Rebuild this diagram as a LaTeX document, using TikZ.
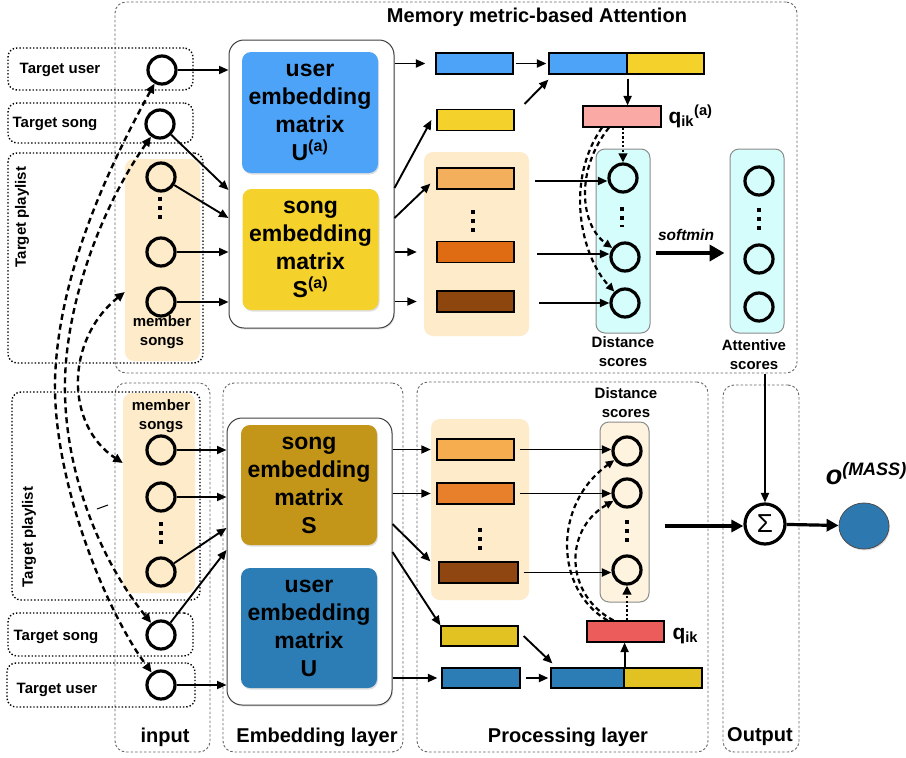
\documentclass[tikz,border=0pt]{standalone}
\usepackage{fontspec}
\setmainfont{Liberation Sans}
\usetikzlibrary{arrows.meta,shadows,calc,shapes.geometric}

\definecolor{userA}{HTML}{4DA3F7}
\definecolor{songA}{HTML}{F4D12B}
\definecolor{userB}{HTML}{2C7CB5}
\definecolor{songB}{HTML}{C39619}
\definecolor{panelbg}{HTML}{FDEBC9}
\definecolor{cyanbg}{HTML}{D4FDFB}
\definecolor{creambg}{HTML}{FEF3DF}
\definecolor{qcolA}{HTML}{FBA9A5}
\definecolor{qcolB}{HTML}{EC5C5A}
\definecolor{orA}{HTML}{F4AF5C}
\definecolor{orB}{HTML}{DF6C13}
\definecolor{brA}{HTML}{8C460E}
\definecolor{orC}{HTML}{F5AD50}
\definecolor{orD}{HTML}{E87F2A}
\definecolor{brB}{HTML}{8F4610}
\definecolor{yelB}{HTML}{E2C223}
\definecolor{outblue}{HTML}{2E78B0}

\begin{document}
\begin{tikzpicture}[x=1pt,y=-1pt,
  small/.style={font=\fontsize{15}{19}\selectfont\bfseries},
  big/.style={font=\fontsize{20}{24}\selectfont\bfseries},
  lblbox/.style={draw, dash pattern=on 1.4pt off 2pt, line width=1.4pt, rounded corners=9pt, inner sep=0pt},
  colbox/.style={draw=black!60, dash pattern=on 2.5pt off 2pt, line width=0.9pt, rounded corners=11pt, inner sep=0pt},
  neuron/.style={circle, draw, line width=3.2pt, minimum size=28pt, inner sep=0pt},
  vec/.style={draw, line width=1.2pt, inner sep=0pt, minimum height=21pt, minimum width=77pt},
  panel/.style={rounded corners=9pt, inner sep=0pt},
  scorebox/.style={panel, draw=black!45, line width=1pt},
  matbox/.style={rounded corners=9pt, inner sep=0pt, minimum width=136pt, minimum height=121pt,
    align=center, font=\fontsize{23}{28}\selectfont\bfseries,
    drop shadow={opacity=0.25, shadow xshift=1pt, shadow yshift=-1.5pt}},
  embframe/.style={draw=black!75, line width=1pt, fill=white, rounded corners=15pt, inner sep=0pt,
    minimum width=165pt, drop shadow={opacity=0.2, shadow xshift=1pt, shadow yshift=-1.5pt}},
  arr/.style={-{Triangle[length=9.5pt,width=8pt]}, line width=1.9pt},
  dotarr/.style={-{Triangle[length=9pt,width=8.5pt]}, line width=2.9pt, dash pattern=on 2.2pt off 2.2pt},
  dasharr/.style={-{Triangle[length=8.5pt,width=7.5pt]}, line width=2.2pt, dash pattern=on 5pt off 3.5pt},
  longdash/.style={{Triangle[length=9.5pt,width=8.5pt]}-{Triangle[length=9.5pt,width=8.5pt]}, line width=2.4pt, dash pattern=on 6pt off 4pt},
  bigarr/.style={-{Triangle[length=15pt,width=16pt]}, line width=4pt},
  outarr/.style={-{Triangle[length=12pt,width=12pt]}, line width=3.2pt},
  vdots/.style={line width=4pt, dash pattern=on 4pt off 5pt}
]
\useasboundingbox (0,0) rectangle (906,758);

%% ---------- frames ----------
\node[colbox, minimum width=682pt, minimum height=371pt] (memBox) at (456,187.5) {};
\node[big] (title) at (537,17) {Memory metric-based Attention};

\node[colbox, minimum width=95pt, minimum height=369pt] (colIn) at (162.5,567.5) {};
\node[colbox, minimum width=180pt, minimum height=369pt] (colEmb) at (313,567.5) {};
\node[colbox, minimum width=291pt, minimum height=370pt] (colProc) at (562.5,567) {};
\node[colbox, minimum width=76pt, minimum height=367pt] (colOut) at (761,568.5) {};
\node[big] (inLbl) at (165,737) {input};
\node[big] (embLbl) at (317,737) {Embedding layer};
\node[big] (procLbl) at (568,737) {Processing layer};
\node[big] (outLbl) at (760,737) {Output};

%% ---------- input side, attention branch ----------
\node[lblbox, minimum width=185pt, minimum height=42pt] (tuBoxA) at (100.5,69) {};
\node[small] (tuTxtA) at (60,70) {Target user};
\node[lblbox, minimum width=185pt, minimum height=40pt] (tsBoxA) at (100.5,123) {};
\node[small] (tsTxtA) at (55,124) {Target song};
\node[lblbox, minimum width=195pt, minimum height=210pt] (tpBoxA) at (105.5,258) {};
\node[small, rotate=90] (tpTxtA) at (22,217) {Target playlist};
\node[panel, fill=panelbg, minimum width=75pt, minimum height=202pt] (msBoxA) at (162.5,260) {};
\node[small, align=center] (msTxtA) at (162,332) {member\\songs};

\node[neuron] (tuA) at (162,70) {};
\node[neuron] (tsA) at (160,124) {};
\node[neuron] (maA) at (161,177) {};
\node[neuron] (mbA) at (161,252) {};
\node[neuron] (mcA) at (161,302) {};
\draw[vdots] (160,197) -- (160,223);

%% ---------- embedding, attention branch ----------
\node[embframe, minimum height=288pt] (embA) at (311.5,184) {};
\node[matbox, fill=userA] (Ua) at (310,112.5) {user\\embedding\\matrix\\U\textsuperscript{(a)}};
\node[matbox, fill=songA] (Sa) at (310.5,249.5) {song\\embedding\\matrix\\S\textsuperscript{(a)}};

%% ---------- vectors, attention branch ----------
\node[vec, fill=userA] (uvA) at (474.5,63.5) {};
\node[vec, fill=songA] (svA) at (475.5,120) {};
\node[panel, fill=panelbg, minimum width=105pt, minimum height=184pt] (pvA) at (476.5,244) {};
\node[vec, fill=orA] (v1A) at (475.5,178.5) {};
\node[vec, fill=orB] (v2A) at (475.5,252) {};
\node[vec, fill=brA] (v3A) at (475.5,301.5) {};
\draw[vdots] (473,210) -- (473,232);

\node[vec, fill=userA, minimum width=78pt] (cuA) at (588,63.5) {};
\node[vec, fill=songA] (csA) at (665.5,63.5) {};
\node[vec, fill=qcolA, minimum width=78pt] (qNodeA) at (622,116.5) {};
\node[anchor=base west, font=\fontsize{21}{24}\selectfont\bfseries] (qLblA) at (665,123) {q\textsubscript{ik}\textsuperscript{(a)}};

\node[scorebox, fill=cyanbg, minimum width=54pt, minimum height=184pt] (dsA) at (623,241) {};
\node[neuron] (d1A) at (623,178) {};
\node[neuron] (d2A) at (625,257) {};
\node[neuron] (d3A) at (625,303) {};
\draw[vdots] (622,207) -- (622,227);
\node[small, align=center] (dsLblA) at (623,352) {Distance\\scores};

\node[scorebox, fill=cyanbg, minimum width=54pt, minimum height=184pt] (asA) at (757,241) {};
\node[neuron] (a1A) at (759,181) {};
\node[neuron] (a2A) at (759,259) {};
\node[neuron] (a3A) at (759,307) {};
\draw[vdots] (759,208) -- (759,230);
\node[small, align=center] (asLbl) at (754,355) {Attentive\\scores};

\node[font=\fontsize{15.5}{18}\selectfont\bfseries\itshape] (smLbl) at (686,235) {softmin};

%% ---------- input side, main branch ----------
\node[lblbox, minimum width=188pt, minimum height=208pt] (tpBoxB) at (106,496) {};
\node[small, rotate=90] (tpTxtB) at (29,537) {Target playlist};
\node[panel, fill=panelbg, minimum width=72pt, minimum height=200pt] (msBoxB) at (159,493) {};
\node[small, align=center] (msTxtB) at (161,416) {member\\songs};
\node[neuron] (maB) at (161,450) {};
\node[neuron] (mbB) at (161,497) {};
\node[neuron] (mcB) at (161,572) {};
\draw[vdots] (161,522) -- (161,544);
\node[lblbox, minimum width=185pt, minimum height=43pt] (tsBoxB) at (100.5,634.5) {};
\node[small] (tsTxtB) at (56,637) {Target song};
\node[neuron] (tsB) at (161,635) {};
\node[lblbox, minimum width=188pt, minimum height=44pt] (tuBoxB) at (101,685) {};
\node[small] (tuTxtB) at (57,690) {Target user};
\node[neuron] (tuB) at (161,685) {};
\draw[line width=1pt] (97,509) -- (108,505);

%% ---------- embedding, main branch ----------
\node[embframe, minimum height=287pt] (embB) at (309.5,561.5) {};
\node[matbox, fill=songB, minimum height=120pt] (Sb) at (309,485) {song\\embedding\\matrix\\S};
\node[matbox, fill=userB, minimum height=120pt] (Ub) at (309,628) {user\\embedding\\matrix\\U};

%% ---------- processing, main branch ----------
\node[panel, fill=panelbg, minimum width=98pt, minimum height=181pt] (pvB) at (480,509.5) {};
\node[vec, fill=orC] (v1B) at (475.5,449.5) {};
\node[vec, fill=orD] (v2B) at (475.5,493.5) {};
\draw[vdots] (480,528) -- (480,550);
\node[vec, fill=brB, minimum width=79pt] (v3B) at (478.5,572.5) {};
\node[vec, fill=yelB, minimum height=20pt] (svB) at (479.5,636) {};
\node[vec, fill=userB, minimum width=78pt, minimum height=20pt] (uvB) at (481,678) {};
\node[vec, fill=userB, minimum width=73pt, minimum height=20pt] (cuB) at (587.5,678) {};
\node[vec, fill=yelB, minimum width=78pt, minimum height=20pt] (csB) at (663,678) {};
\node[vec, fill=qcolB] (qNodeB) at (625.5,631.5) {};
\node[anchor=base west, font=\fontsize{21}{24}\selectfont\bfseries] (qLblB) at (669,639) {q\textsubscript{ik}};

\node[scorebox, fill=creambg, minimum width=49pt, minimum height=180pt] (dsB) at (624.5,512) {};
\node[small, align=center] (dsLblB) at (626,402.5) {Distance\\scores};
\node[neuron] (d1B) at (627,451) {};
\node[neuron] (d2B) at (627,493) {};
\node[neuron] (d3B) at (627,570) {};
\draw[vdots] (627,520) -- (627,542);

%% ---------- output ----------
\node[neuron, minimum size=40pt, font=\fontsize{26}{26}\selectfont] (sigma) at (765,524) {Σ};
\node[ellipse, draw=black!70, line width=0.8pt, fill=outblue, minimum width=50pt, minimum height=46pt,
      inner sep=0pt, drop shadow={opacity=0.25, shadow xshift=1pt, shadow yshift=-1.5pt}] (outN) at (864,526) {};
\node[font=\bfseries\itshape] (outTxt) at (866,474)
  {{\fontsize{27}{27}\selectfont o}\raisebox{9pt}{\fontsize{18}{18}\selectfont (MASS)}};

%% ---------- connectors: attention branch ----------
\draw[arr] (tuA) -- (tuA -| embA.west);
\draw[arr] (tsA) -- (embA.west |- 0,190);
\draw[arr] (maA) -- (embA.west |- 0,218);
\draw[arr] (mbA) -- (mbA -| embA.west);
\draw[arr] (mcA) -- (mcA -| embA.west);

\draw[arr] (embA.east |- uvA) -- ($(uvA.west)+(-10,0)$);
\draw[arr] (embA.east |- 0,188) -- ($(svA.west)+(-5,0)$);
\draw[arr] (embA.east |- 0,218) -- ($(v1A.south west)+(-6,-6)$);
\draw[arr] (embA.east |- v2A) -- ($(pvA.west |- v2A)+(-7,0)$);
\draw[arr] (embA.east |- v3A) -- ($(pvA.west |- v3A)+(-7,0)$);

\draw[arr, shorten <=2pt, shorten >=2pt] (uvA.east) -- (cuA.west);
\draw[arr] ($(svA.north east)+(10,-5)$) -- ($(cuA.south west)+(0,5)$);
\draw[arr] ($(cuA.south east)+(0,4)$) -- (cuA.south east |- qNodeA.north);

\draw[arr] ($(d1A)+(-88,3)$) -- ($(d1A.west)+(0,3)$);
\draw[arr] ($(d2A)+(-88,-3)$) -- ($(d2A.west)+(0,-3)$);
\draw[arr] ($(d3A)+(-86,0)$) -- (d3A.west);

\draw[dotarr] (qNodeA.south -| d1A) -- (d1A);
\draw[dasharr] ($(qNodeA.south)+(-20,0)$) .. controls (565,180) and (580,255) .. (d3A);
\draw[dasharr] ($(qNodeA.south)+(-13,0)$) .. controls (575,170) and (580,225) .. (d2A);

\draw[bigarr] ($(dsA.east)+(5,12)$) -- ($(asA.west)+(-5,12)$);

%% ---------- connectors: main branch ----------
\draw[arr] (maB) -- (maB -| embB.west);
\draw[arr] (mbB) -- (mbB -| embB.west);
\draw[arr] (mcB) -- (embB.west |- 0,528);
\draw[arr] (tsB) -- (embB.west |- 0,550);
\draw[arr] (tuB) -- (tuB -| embB.west);

\draw[arr] (embB.east |- v1B) -- (pvB.west |- v1B);
\draw[arr] (embB.east |- v2B) -- (pvB.west |- v2B);
\draw[arr] (embB.east |- 0,524) -- ($(v3B.north west)+(-8,0)$);
\draw[arr] (embB.east |- 0,552) -- (svB.north west);
\draw[arr] (embB.east |- uvB) -- ($(uvB.west)+(-4,0)$);

\draw[arr] ($(v1B.east)+(5,0)$) -- (v1B.east -| d1B.west);
\draw[arr] ($(v2B.east)+(5,0)$) -- (v2B.east -| d2B.west);
\draw[arr] ($(v3B.east)+(5,0)$) -- (v3B.east -| d3B.west);

\draw[arr] ($(svB.east)+(5,0)$) -- ($(cuB.north west)+(2,-4)$);
\draw[arr] ($(uvB.east)+(5,0)$) -- ($(cuB.west)+(-2,0)$);
\draw[arr] (cuB.north east) -- (cuB.north east |- qNodeB.south);

\draw[dotarr] (qNodeB.north -| d3B) -- (d3B);
\draw[dasharr] ($(qNodeB.north)+(-18,0)$) .. controls (555,590) and (552,505) .. (d1B);
\draw[dasharr] ($(qNodeB.north)+(-12,0)$) .. controls (565,595) and (563,530) .. (d2B);

%% ---------- output connectors ----------
\draw[outarr] ($(dsB.east |- sigma)+(15,2)$) -- ($(sigma.west)+(0,2)$);
\draw[outarr] (sigma) -- (outN);
\draw[arr] (asLbl.south -| sigma) -- (sigma);

%% ---------- shared inputs between the two branches ----------
\draw[longdash] (tuA) .. controls (103,177) and (58,280) .. (55,380)
                      .. controls (53,480) and (105,610) .. (tuB);
\draw[longdash] (tsA) .. controls (102,206) and (67,300) .. (65,380)
                      .. controls (63,470) and (100,560) .. (tsB);
\draw[longdash] ($(msBoxA.west)+(0,32)$) .. controls (65,340) and (65,425) .. ($(msBoxB.west)+(0,-30)$);
\end{tikzpicture}
\end{document}
